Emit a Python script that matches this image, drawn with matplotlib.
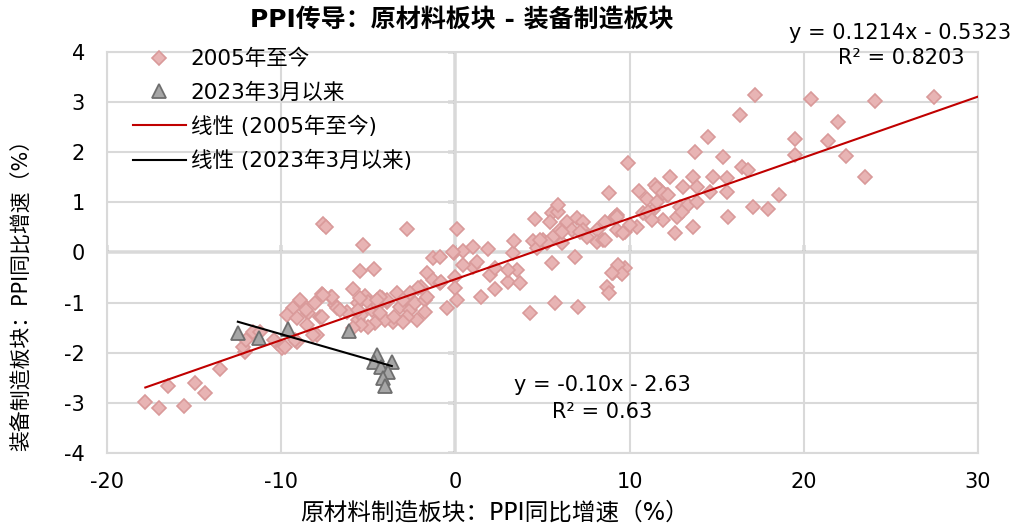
import numpy as np
import matplotlib
matplotlib.use('Agg')
import matplotlib.pyplot as plt

plt.rcParams['font.family'] = ['DejaVu Sans', 'Noto Sans CJK SC']
plt.rcParams['axes.unicode_minus'] = False

# 2005年至今: (原材料 PPI yoy, 装备制造 PPI yoy)
x_all = [-17.8, -17.0, -16.5, -15.6, -14.95, -14.4, -13.5,
         -12.1, -12.2, -12.0, -11.6, -11.2, -10.25, -9.96, -9.8, -9.1, -10.4,
         -9.33, -9.67, -8.8, -8.47, -8.07, -7.78, -6.92, -6.23, -5.6, -7.95, -9.1, -8.93, -8.6,
         -7.66, -7.15, -7.66, -8.5, -8.18, -6.8, -6.63, -9.2,
         -7.6, -7.4, -2.8, -5.3, -1.3, -0.9, 0.1, -5.5, -4.7, -5.9,
         -5.2, -5.0, -5.6, -5.4, -4.8, -4.45, -4.2, -3.9, -3.36, -3.2, -2.8, -2.6, -2.3, -2.0,
         -1.75, -2.2, -2.8, -3.6, -4.05, -4.6, -5.0, -1.64, -1.3, -0.9, -0.5, -1.75, -3.0, -3.5,
         -4.3, -5.4, -5.6, -5.9, -1.64, -2.15, -2.6, -3.0, -3.9, -4.3, -4.5, -5.5, -7.1, -7.6,
         0.0, 0.0, 0.1,
         -0.8, 1.46, 2.27, 3.0, 3.7, 3.53, 3.0, 2.0, 2.27, 1.0, 1.23, 0.43, -0.1, 0.43, 1.0,
         1.87, 3.3, 3.36, 4.45, 4.7, 5.54, 6.86, 4.28, 5.71, 7.03, 8.7, 8.81, 9.04, 9.44, 9.73,
         9.33, -0.15,
         4.56, 5.54, 5.88, 5.88, 5.42, 5.02, 5.6, 6.0, 6.4, 6.69, 6.97, 7.32, 7.32, 8.12, 8.12,
         8.47, 8.58, 9.27, 9.73, 8.81, 6.1, 5.25, 4.85, 7.55, 9.27, 6.1, 7.15, 9.15,
         9.9, 10.53, 11.0, 11.45, 11.74, 12.14, 12.31, 11.34, 10.76, 11.9, 12.6, 12.7, 13.06,
         13.63, 13.86, 13.63, 14.6, 14.78, 15.59, 15.59, 15.64, 16.45, 16.79, 17.08, 13.75,
         15.36, 14.5, 16.33, 17.19, 17.94, 18.6, 20.4, 24.1, 27.5, 21.96, 19.5, 21.4, 19.5,
         22.4, 23.5,
         11.6, 11.6, 12.9, 13.35, 13.86, 11.05, 11.3, 13.0, 10.4, 10.0, 9.6, 9.27, 8.58, 9.56,
         9.0, 11.9, 12.2]
y_all = [-2.98, -3.10, -2.66, -3.06, -2.60, -2.80, -2.32,
         -1.98, -1.88, -1.74, -1.58, -1.58, -1.80, -1.90, -1.88, -1.78, -1.74,
         -1.11, -1.25, -1.01, -1.21, -1.01, -1.29, -1.05, -1.19, -1.01, -1.64, -1.31, -0.95, -1.15,
         -0.83, -0.89, -1.29, -1.45, -1.64, -1.11, -1.15, -1.74,
         0.57, 0.51, 0.47, 0.15, -0.10, -0.09, 0.47, -0.37, -0.33, -0.73,
         -0.87, -0.99, -1.35, -1.25, -1.15, -1.05, -0.91, -0.99, -0.81, -1.09, -0.91, -1.15, -1.01, -0.69,
         -0.95, -1.35, -1.29, -1.39, -1.35, -1.41, -1.49, -0.41, -0.55, -0.61, -1.11, -1.19, -1.39, -1.29,
         -1.21, -1.45, -1.15, -1.51, -0.89, -0.71, -0.81, -0.95, -0.95, -0.89, -0.95, -0.91, -0.89, -0.85,
         -0.49, -0.71, -0.95,
         -0.59, -0.89, -0.73, -0.59, -0.61, -0.35, -0.35, -0.45, -0.31, -0.29, -0.19, -0.25, -0.01, 0.03, 0.11,
         0.07, -0.01, 0.23, 0.23, 0.09, -0.21, -0.09, -1.21, -1.01, -1.09, -0.69, -0.81, -0.41, -0.39, -0.31,
         -0.25, 0.00,
         0.67, 0.79, 0.81, 0.95, 0.61, 0.25, 0.31, 0.45, 0.61, 0.45, 0.69, 0.61, 0.45, 0.45, 0.21,
         0.25, 0.61, 0.75, 0.41, 1.19, 0.19, 0.19, 0.25, 0.31, 0.45, 0.41, 0.41, 0.71,
         1.79, 1.23, 1.07, 1.35, 1.25, 1.15, 1.51, 0.85, 0.79, 0.65, 0.39, 0.71, 1.31,
         1.51, 1.31, 0.51, 1.21, 1.51, 1.49, 1.21, 0.71, 1.71, 1.65, 0.91, 2.01,
         1.91, 2.31, 2.75, 3.15, 0.87, 1.15, 3.07, 3.03, 3.11, 2.61, 2.27, 2.23, 1.95,
         1.93, 1.51,
         1.29, 1.01, 0.91, 0.95, 1.01, 0.81, 0.65, 0.81, 0.51, 0.55, 0.39, 0.71, 0.25, -0.43,
         -0.41, 1.19, 1.15]

# 2023年3月以来
x_new = [-12.49, -11.28, -9.62, -6.11, -4.51, -4.68, -3.65, -4.28, -3.87, -4.16, -4.05]
y_new = [-1.61, -1.70, -1.52, -1.56, -2.04, -2.18, -2.18, -2.28, -2.38, -2.50, -2.66]

# trendline coefficients shown on the chart
fit_all = (0.1214, -0.5323)
fit_new = (-0.10, -2.63)

x_ticks = [-20, -10, 0, 10, 20, 30]
y_ticks = [-4, -3, -2, -1, 0, 1, 2, 3, 4]

fig = plt.figure(figsize=(10.16, 5.32), dpi=100)
ax = fig.add_axes([107/1016, 1-453/532, (978-107)/1016, (453-52)/532])

ax.set_xlim(-20, 30)
ax.set_ylim(-4, 4)
ax.set_xticks(x_ticks)
ax.set_yticks(y_ticks)
ax.grid(True, color='#D9D9D9', lw=1.5, zorder=0)
for s in ax.spines.values():
    s.set_color('#D9D9D9')
    s.set_linewidth(1.5)
ax.tick_params(length=0, labelsize=15, pad=14)
ax.tick_params(axis='y', pad=16)

ax.axhline(0, color='black', lw=1.6, zorder=1)
ax.axvline(0, color='black', lw=1.6, zorder=1)
ax.plot(x_ticks[:-1], [0]*(len(x_ticks)-1), ls='none', marker=2, ms=5, mew=1.6, color='black', zorder=1)
ax.plot([0]*len(y_ticks), y_ticks, ls='none', marker=0, ms=5, mew=1.6, color='black', zorder=1)

ax.plot(x_all, y_all, ls='none', marker='D', ms=6.8, mfc='#E8B4B4', mec='#D99A9A', mew=1.2,
        label='2005年至今', zorder=3)
ax.plot(x_new, y_new, ls='none', marker='^', ms=10.5, mfc='#A6A6A6', mec='#6E6E6E', mew=1.3,
        label='2023年3月以来', zorder=4)

xa = np.array([min(x_all), 30])
ax.plot(xa, fit_all[0]*xa + fit_all[1], color='#C00000', lw=1.5, label='线性 (2005年至今)', zorder=5)
xn = np.array([min(x_new), max(x_new)])
ax.plot(xn, fit_new[0]*xn + fit_new[1], color='black', lw=1.5, label='线性 (2023年3月以来)', zorder=5)

ax.legend(loc='upper left', bbox_to_anchor=(0.012, 1.045), frameon=False, fontsize=15.5,
          handlelength=2.5, labelspacing=0.6, handletextpad=0.2, borderaxespad=0.3)

fig.text(462/1016, 1-20/532, 'PPI传导：原材料板块 - 装备制造板块', ha='center', va='center',
         fontsize=18, fontweight='bold')
fig.text(900/1016, 1-33/532, 'y = 0.1214x - 0.5323', ha='center', va='center', fontsize=15)
fig.text(901/1016, 1-58/532, 'R² = 0.8203', ha='center', va='center', fontsize=15)
fig.text(602/1016, 1-385/532, 'y = -0.10x - 2.63', ha='center', va='center', fontsize=15)
fig.text(602/1016, 1-412/532, 'R² = 0.63', ha='center', va='center', fontsize=15)
fig.text(495/1016, 1-513/532, '原材料制造板块：PPI同比增速（%）', ha='center', va='center', fontsize=17)
fig.text(22/1016, 1-290/532, '装备制造板块：PPI同比增速（%）', ha='center', va='center',
         fontsize=15, rotation=90)

fig.savefig('out.png', dpi=100)
